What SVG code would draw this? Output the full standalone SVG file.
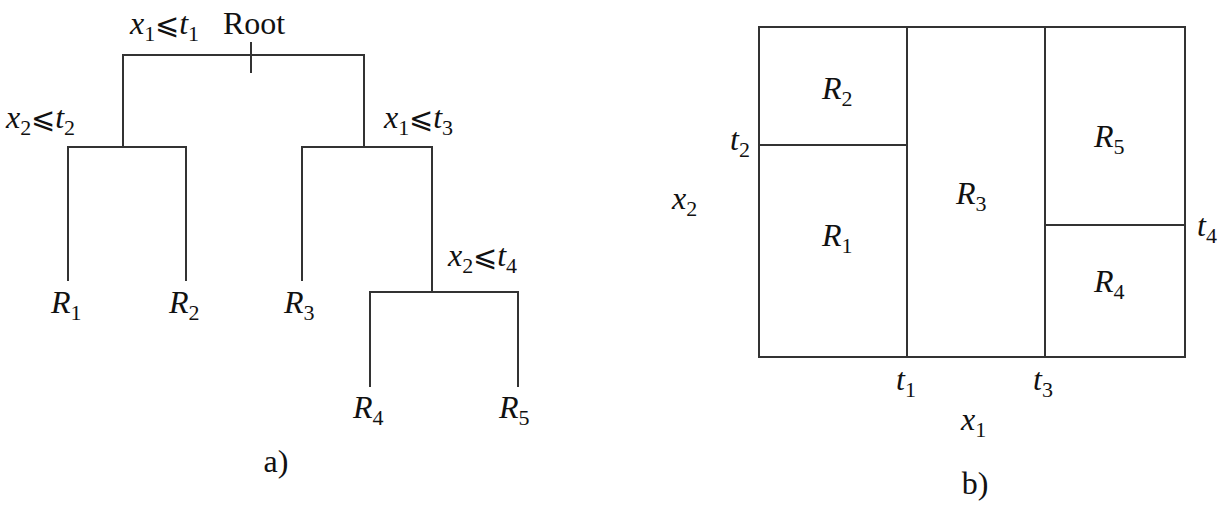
<svg xmlns="http://www.w3.org/2000/svg" width="1223" height="506" viewBox="0 0 1223 506">
<style>
.ln{stroke:#333;stroke-width:2;fill:none;stroke-linecap:square}
text{font-family:"Liberation Serif","DejaVu Serif",serif;font-size:32px;fill:#111}
.i{font-style:italic}
.s{font-size:22px}
.le{font-size:29px}
</style>
<rect width="1223" height="506" fill="#fff"/>
<g id="connectors">
<path class="ln" d="M251 43V72M123 147V55H364V147M68 280V147H186V280M302 280V147H432V292M370 386V292H518V386"/>
</g>
<g id="root"><text x="130" y="34"><tspan class="i">x</tspan><tspan class="s" dy="7">1</tspan><tspan class="le" dy="-7">⩽</tspan><tspan class="i">t</tspan><tspan class="s" dy="7">1</tspan></text><text x="223" y="34">Root</text></g>
<g id="split-t2"><text x="6" y="128"><tspan class="i">x</tspan><tspan class="s" dy="7">2</tspan><tspan class="le" dy="-7">⩽</tspan><tspan class="i">t</tspan><tspan class="s" dy="7">2</tspan></text></g>
<g id="split-t3"><text x="384" y="128"><tspan class="i">x</tspan><tspan class="s" dy="7">1</tspan><tspan class="le" dy="-7">⩽</tspan><tspan class="i">t</tspan><tspan class="s" dy="7">3</tspan></text></g>
<g id="split-t4"><text x="448" y="266"><tspan class="i">x</tspan><tspan class="s" dy="7">2</tspan><tspan class="le" dy="-7">⩽</tspan><tspan class="i">t</tspan><tspan class="s" dy="7">4</tspan></text></g>
<g id="leaf-R1"><text x="51" y="313"><tspan class="i">R</tspan><tspan class="s" dy="7">1</tspan></text></g>
<g id="leaf-R2"><text x="169" y="313"><tspan class="i">R</tspan><tspan class="s" dy="7">2</tspan></text></g>
<g id="leaf-R3"><text x="284" y="313"><tspan class="i">R</tspan><tspan class="s" dy="7">3</tspan></text></g>
<g id="leaf-R4"><text x="353" y="418"><tspan class="i">R</tspan><tspan class="s" dy="7">4</tspan></text></g>
<g id="leaf-R5"><text x="499" y="418"><tspan class="i">R</tspan><tspan class="s" dy="7">5</tspan></text></g>
<text x="276" y="472" text-anchor="middle">a)</text>
<g id="partition">
<rect class="ln" x="759" y="27" width="426" height="330"/>
<path class="ln" d="M907 27V357M1045 27V357M759 145H907M1045 225H1185"/>
</g>
<g id="region-R2"><text x="822" y="99"><tspan class="i">R</tspan><tspan class="s" dy="7">2</tspan></text></g>
<g id="region-R1"><text x="822" y="246"><tspan class="i">R</tspan><tspan class="s" dy="7">1</tspan></text></g>
<g id="region-R3"><text x="956" y="204"><tspan class="i">R</tspan><tspan class="s" dy="7">3</tspan></text></g>
<g id="region-R5"><text x="1094" y="147"><tspan class="i">R</tspan><tspan class="s" dy="7">5</tspan></text></g>
<g id="region-R4"><text x="1094" y="292"><tspan class="i">R</tspan><tspan class="s" dy="7">4</tspan></text></g>
<text x="730" y="150"><tspan class="i">t</tspan><tspan class="s" dy="7">2</tspan></text>
<text x="1197" y="236"><tspan class="i">t</tspan><tspan class="s" dy="7">4</tspan></text>
<text x="672" y="209"><tspan class="i">x</tspan><tspan class="s" dy="7">2</tspan></text>
<text x="896" y="390"><tspan class="i">t</tspan><tspan class="s" dy="7">1</tspan></text>
<text x="1033" y="390"><tspan class="i">t</tspan><tspan class="s" dy="7">3</tspan></text>
<text x="961" y="430"><tspan class="i">x</tspan><tspan class="s" dy="7">1</tspan></text>
<text x="975" y="494" text-anchor="middle">b)</text>
</svg>
